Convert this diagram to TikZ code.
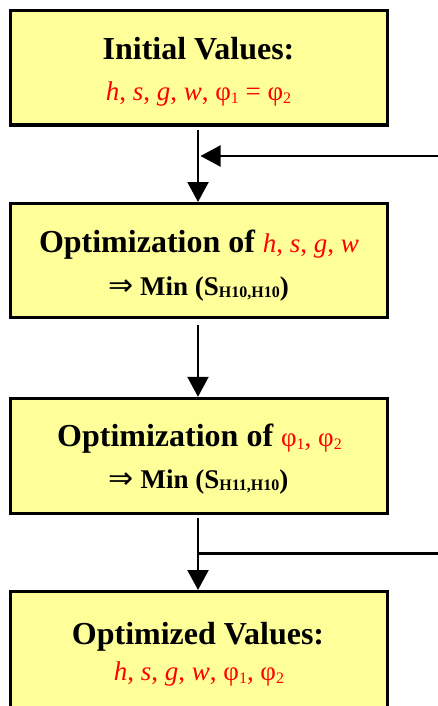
\documentclass[tikz,border=0pt]{standalone}
\usepackage{fontspec}
\setmainfont{Liberation Serif}
\newfontfamily\arrowfont{DejaVu Sans}
\usetikzlibrary{arrows.meta}
\definecolor{boxyellow}{HTML}{FFFF99}
\definecolor{varred}{HTML}{FF0000}
\newcommand{\hdfont}{\fontsize{32}{36}\selectfont\bfseries}
\newcommand{\smfont}{\fontsize{27}{30}\selectfont}
\newcommand{\subsc}[1]{\raisebox{-3pt}{\fontsize{16}{16}\selectfont #1}}
\newcommand{\bsubsc}[1]{\raisebox{-2pt}{\fontsize{16}{16}\selectfont\bfseries #1}}
\newcommand{\dblarrow}{{\fontsize{30}{30}\arrowfont\mdseries ⇒}}
\newcommand{\redv}[1]{\textcolor{varred}{#1}}
\tikzset{
  stepbox/.style={draw=black, line width=3pt, fill=boxyellow, minimum width=377pt, inner sep=0pt},
  txt/.style={anchor=base, inner sep=0pt},
  conn/.style={line width=2.2pt, -{Triangle[length=20pt,width=21pt]}},
  plainline/.style={line width=2.2pt}
}
\begin{document}
\begin{tikzpicture}[x=1pt,y=-1pt]
\useasboundingbox (0,0) rectangle (438,706);
\clip (0,0) rectangle (438,706);
\node[stepbox, minimum height=114.5pt] (b1) at (199,67.75) {};
\node[stepbox, minimum height=114pt] (b2) at (199,260.5) {};
\node[stepbox, minimum height=115pt] (b3) at (199,455.8) {};
\node[stepbox, minimum height=116.5pt] (b4) at (199,649.75) {};
% texts
\node[txt] (t1a) at (198.5,59.3) {\hdfont Initial Values:};
\node[txt] (t1b) at (198.5,101) {\smfont\color{varred}\textit{h}, \textit{s}, \textit{g}, \textit{w}, φ\subsc{1} = φ\subsc{2}};
\node[txt] (t2a) at (199,252.7) {\hdfont Optimization of \smfont\mdseries\color{varred}\textit{h}, \textit{s}, \textit{g}, \textit{w}};
\node[txt] (t2b) at (198.5,295) {\smfont\bfseries\dblarrow{} Min (S\bsubsc{H10,H10})};
\node[txt] (t3a) at (199.5,446.7) {\hdfont Optimization of \smfont\mdseries\color{varred}φ\subsc{1}, φ\subsc{2}};
\node[txt] (t3b) at (198.5,488.3) {\smfont\bfseries\dblarrow{} Min (S\bsubsc{H11,H10})};
\node[txt] (t4a) at (198,644) {\hdfont Optimized Values:};
\node[txt] (t4b) at (199,680) {\smfont\color{varred}\textit{h}, \textit{s}, \textit{g}, \textit{w}, φ\subsc{1}, φ\subsc{2}};
% connectors
\coordinate (in1) at (438,156);
\coordinate (j1) at (200.5,156);
\coordinate (j2) at (197,553.5);
\coordinate (out2) at (438,553.5);
\draw[conn, shorten <=3.5pt] ([xshift=-1pt]b1.south) -- ([xshift=-1pt]b2.north);
\draw[conn] (in1) -- (j1);
\draw[conn, shorten <=6pt] ([xshift=-1pt]b2.south) -- ([xshift=-1pt]b3.north);
\draw[conn, shorten <=3.5pt] ([xshift=-1pt]b3.south) -- ([xshift=-1pt]b4.north);
\draw[plainline] (j2) -- (out2);
\end{tikzpicture}
\end{document}
